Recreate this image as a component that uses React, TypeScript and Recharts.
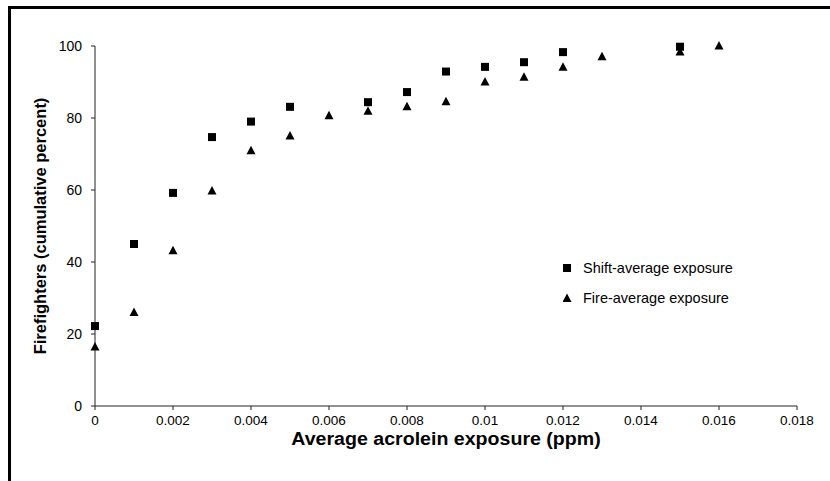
import React from 'react';
import { ScatterChart, Scatter, XAxis, YAxis, Label } from 'recharts';

// shift-average exposure (squares)
const shiftExposure = [0, 0.001, 0.002, 0.003, 0.004, 0.005, 0.007, 0.008, 0.009, 0.01, 0.011, 0.012, 0.015];
const shiftPercent = [22.2, 45, 59.2, 74.7, 79, 83.1, 84.4, 87.2, 92.9, 94.2, 95.5, 98.3, 99.8];

// fire-average exposure (triangles)
const fireExposure = [0, 0.001, 0.002, 0.003, 0.004, 0.005, 0.006, 0.007, 0.008, 0.009, 0.01, 0.011, 0.012, 0.013, 0.015, 0.016];
const firePercent = [16.4, 26, 43.1, 59.7, 70.9, 75, 80.6, 81.9, 83.1, 84.5, 90, 91.3, 94.1, 97, 98.3, 100];

const xTicks = [0, 0.002, 0.004, 0.006, 0.008, 0.01, 0.012, 0.014, 0.016, 0.018];
const yTicks = [0, 20, 40, 60, 80, 100];

const seriesNames = ['Shift-average exposure', 'Fire-average exposure'];
const xTitle = 'Average acrolein exposure (ppm)';
const yTitle = 'Firefighters (cumulative percent)';

const shiftData = shiftExposure.map((x, i) => ({ x, y: shiftPercent[i] }));
const fireData = fireExposure.map((x, i) => ({ x, y: firePercent[i] }));

const FONT = '"Liberation Sans", Arial, sans-serif';

const SquareDot = (props: any) => {
  const { cx, cy } = props;
  if (cx == null || cy == null) return null;
  return <rect x={cx - 4} y={cy - 4} width={8} height={8} fill="#000" />;
};

const TriangleDot = (props: any) => {
  const { cx, cy } = props;
  if (cx == null || cy == null) return null;
  return <polygon points={`${cx},${cy - 5} ${cx + 4.5},${cy + 3.5} ${cx - 4.5},${cy + 3.5}`} fill="#000" />;
};

// scanned original is a bit wider than tall, so the title is stretched sideways
const XTitle = (props: any) => {
  const vb = props.viewBox || { x: 0, y: 0, width: 0 };
  const cx = vb.x + vb.width / 2;
  return (
    <text
      x={cx}
      y={vb.y + 39}
      textAnchor="middle"
      transform={`translate(${cx} 0) scale(1.12 1) translate(${-cx} 0)`}
      style={{ fill: '#000', fontSize: 17.5, fontWeight: 'bold', fontFamily: FONT }}
    >
      {xTitle}
    </text>
  );
};

const LegendBox = () => (
  <div style={{ position: 'absolute', left: 563, top: 253, fontFamily: FONT, fontSize: 14.5, color: '#000' }}>
    <div style={{ display: 'flex', alignItems: 'center', height: 30 }}>
      <svg width={20} height={12}>
        <rect x={0} y={2} width={8} height={8} fill="#000" />
      </svg>
      <span>{seriesNames[0]}</span>
    </div>
    <div style={{ display: 'flex', alignItems: 'center', height: 30 }}>
      <svg width={20} height={12}>
        <polygon points="4,1.5 8.5,10 -0.5,10" fill="#000" />
      </svg>
      <span>{seriesNames[1]}</span>
    </div>
  </div>
);

const fmt = (v: number) => String(Number(v.toFixed(3)));

export default function App() {
  return (
    <div style={{ position: 'fixed', left: 0, top: 0, width: 830, height: 481, background: '#fff' }}>
      <ScatterChart width={830} height={481} margin={{ top: 46, right: 33, bottom: 0, left: 0 }}>
        <XAxis
          type="number"
          dataKey="x"
          domain={[0, 0.018]}
          ticks={xTicks}
          tickFormatter={fmt}
          interval={0}
          axisLine={{ stroke: '#222', strokeWidth: 1 }}
          tickLine={{ stroke: '#222' }}
          tickSize={4}
          tickMargin={5}
          height={75}
          tick={{ fill: '#000', fontSize: 13.5, fontFamily: FONT }}
        >
          <Label content={<XTitle />} />
        </XAxis>
        <YAxis
          type="number"
          dataKey="y"
          domain={[0, 100]}
          ticks={yTicks}
          interval={0}
          width={95}
          axisLine={{ stroke: '#222', strokeWidth: 1 }}
          tickLine={{ stroke: '#222' }}
          tickSize={4}
          tickMargin={9}
          tick={{ fill: '#000', fontSize: 14, fontFamily: FONT }}
        >
          <Label
            value={yTitle}
            angle={-90}
            position="insideLeft"
            offset={40}
            style={{ fill: '#000', fontSize: 16.5, fontWeight: 'bold', fontFamily: FONT, textAnchor: 'middle' }}
          />
        </YAxis>
        <Scatter name={seriesNames[0]} data={shiftData} shape={<SquareDot />} isAnimationActive={false} />
        <Scatter name={seriesNames[1]} data={fireData} shape={<TriangleDot />} isAnimationActive={false} />
      </ScatterChart>
      <LegendBox />
      <div
        style={{
          position: 'absolute',
          left: 8,
          top: 6,
          width: 822,
          height: 475,
          borderTop: '3px solid #000',
          borderLeft: '3px solid #000',
          boxSizing: 'border-box',
        }}
      />
    </div>
  );
}
